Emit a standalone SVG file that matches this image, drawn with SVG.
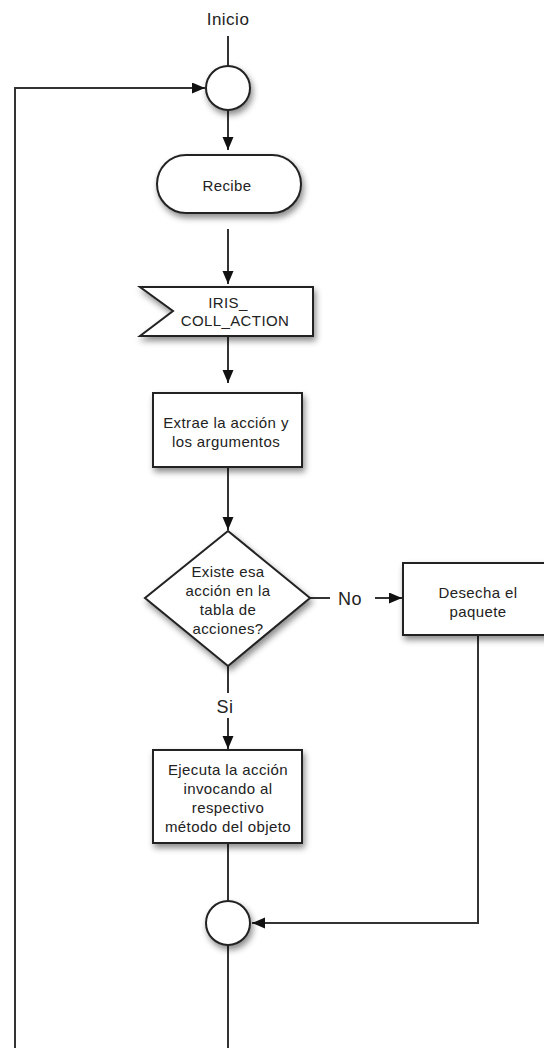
<svg xmlns="http://www.w3.org/2000/svg" width="544" height="1048" viewBox="0 0 544 1048">
  <defs>
    <filter id="shadow" x="-20%" y="-20%" width="150%" height="160%">
      <feDropShadow dx="2" dy="4" stdDeviation="3" flood-color="#000" flood-opacity="0.45"/>
    </filter>
    <marker id="arrow" markerUnits="userSpaceOnUse" markerWidth="14" markerHeight="12" refX="13" refY="5.5" orient="auto">
      <path d="M0,0 L13,5.5 L0,11 Z" fill="#111"/>
    </marker>
  </defs>
  <style>
    .shape { fill: #fff; stroke: #222; stroke-width: 2; filter: url(#shadow); }
    .edge { fill: none; stroke: #333; stroke-width: 2; }
    .label { font-family: "Liberation Sans", Arial, sans-serif; font-size: 15px; fill: #222; text-anchor: middle; letter-spacing: 0.4px; }
    .big { font-size: 18px; letter-spacing: 0.5px; }
    .title { font-size: 17px; letter-spacing: 0.5px; }
  </style>
  <rect width="544" height="1048" fill="#fff"/>

  <!-- connectors -->
  <g id="connectors">
    <line class="edge" x1="228" y1="36" x2="228" y2="66"/>
    <line class="edge" x1="228" y1="110" x2="228" y2="150" marker-end="url(#arrow)"/>
    <line class="edge" x1="228" y1="229" x2="228" y2="284" marker-end="url(#arrow)"/>
    <line class="edge" x1="228" y1="337" x2="228" y2="383" marker-end="url(#arrow)"/>
    <line class="edge" x1="228" y1="467" x2="228" y2="530" marker-end="url(#arrow)"/>
    <line class="edge" x1="310" y1="598" x2="330" y2="598"/>
    <line class="edge" x1="375" y1="598" x2="402" y2="598" marker-end="url(#arrow)"/>
    <line class="edge" x1="228" y1="666" x2="228" y2="693"/>
    <line class="edge" x1="228" y1="718" x2="228" y2="749" marker-end="url(#arrow)"/>
    <line class="edge" x1="228" y1="843" x2="228" y2="901"/>
    <polyline class="edge" points="478,636 478,923 252,923" marker-end="url(#arrow)"/>
    <line class="edge" x1="228" y1="945" x2="228" y2="1048"/>
    <polyline class="edge" points="15,1048 15,88 205,88" marker-end="url(#arrow)"/>
    <text class="label big" x="350" y="605">No</text>
    <text class="label big" x="225" y="713">Si</text>
  </g>

  <!-- start label -->
  <g id="inicio">
    <text class="label title" x="228" y="25">Inicio</text>
  </g>

  <!-- top merge point -->
  <g id="merge-top">
    <circle class="shape" cx="228" cy="88" r="22"/>
  </g>

  <g id="recibe">
    <rect class="shape" x="157" y="155" width="144" height="58" rx="29" ry="29"/>
    <text class="label" x="227" y="191">Recibe</text>
  </g>

  <g id="iris-coll-action">
    <polygon class="shape" points="140,287 313,287 313,336 140,336 173,311"/>
    <text class="label" x="228" y="308">IRIS_</text>
    <text class="label" x="235" y="326">COLL_ACTION</text>
  </g>

  <g id="extrae">
    <rect class="shape" x="153" y="393" width="149" height="74"/>
    <text class="label" x="226" y="428">Extrae la acción y</text>
    <text class="label" x="226" y="447">los argumentos</text>
  </g>

  <g id="existe">
    <polygon class="shape" points="228,531 310,598 228,666 145,598"/>
    <text class="label" x="228" y="577">Existe esa</text>
    <text class="label" x="228" y="596">acción en la</text>
    <text class="label" x="228" y="615">tabla de</text>
    <text class="label" x="228" y="634">acciones?</text>
  </g>

  <g id="desecha">
    <rect class="shape" x="403" y="563" width="150" height="72"/>
    <text class="label" x="478" y="598">Desecha el</text>
    <text class="label" x="478" y="617">paquete</text>
  </g>

  <g id="ejecuta">
    <rect class="shape" x="153" y="750" width="149" height="93"/>
    <text class="label" x="228" y="775">Ejecuta la acción</text>
    <text class="label" x="228" y="794">invocando al</text>
    <text class="label" x="228" y="813">respectivo</text>
    <text class="label" x="228" y="832">método del objeto</text>
  </g>

  <!-- bottom merge point -->
  <g id="merge-bottom">
    <circle class="shape" cx="228" cy="923" r="22"/>
  </g>
</svg>
